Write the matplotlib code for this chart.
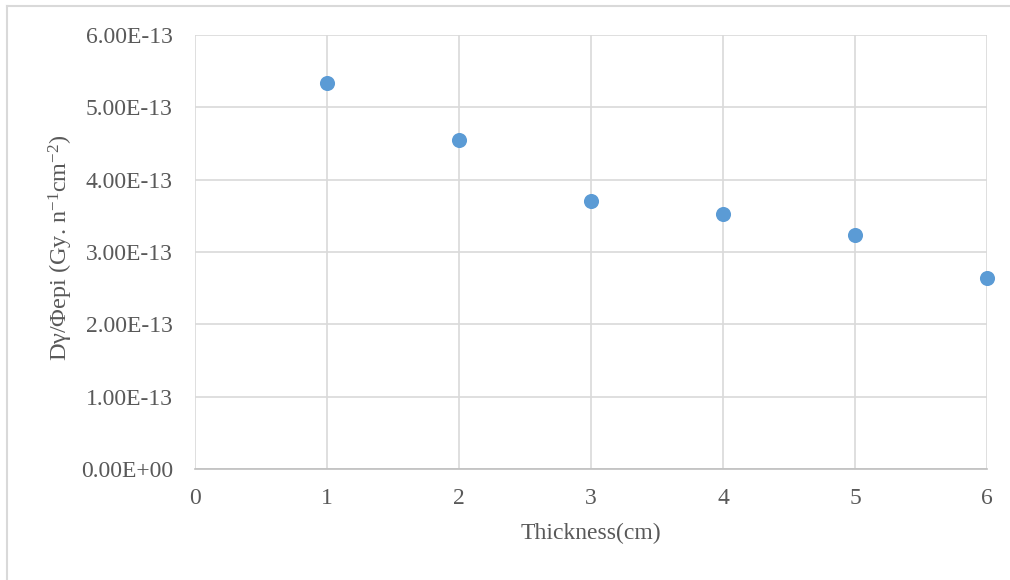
import matplotlib.pyplot as plt
from matplotlib.lines import Line2D
from matplotlib.ticker import FuncFormatter

plt.rcParams["font.family"] = ["Liberation Serif", "DejaVu Serif"]
plt.rcParams["mathtext.fontset"] = "custom"
plt.rcParams["mathtext.rm"] = "Liberation Serif"
plt.rcParams["mathtext.it"] = "Liberation Serif"

thickness = [1, 2, 3, 4, 5, 6]
dose = [5.34e-13, 4.55e-13, 3.71e-13, 3.52e-13, 3.23e-13, 2.645e-13]
y_ticks = [0, 1e-13, 2e-13, 3e-13, 4e-13, 5e-13, 6e-13]

text_col = "#595959"
grid_col = "#D9D9D9"

fig = plt.figure(figsize=(10.1, 5.8), dpi=100)
ax = fig.add_axes([195 / 1010, 111 / 580, 792 / 1010, 434 / 580])

# outer chart border (only top and left edges show in the reference)
fig.add_artist(Line2D([7 / 1010, 1.0], [1 - 6 / 580, 1 - 6 / 580], color=grid_col, lw=1.5))
fig.add_artist(Line2D([7 / 1010, 7 / 1010], [0.0, 1 - 6 / 580], color=grid_col, lw=1.5))

ax.scatter(thickness, dose, s=118, color="#5B9BD5", zorder=3, clip_on=False, linewidths=0)

ax.set_xlim(0, 6)
ax.set_ylim(0, 6e-13)
ax.set_xticks(range(7))
ax.set_yticks(y_ticks)
ax.yaxis.set_major_formatter(FuncFormatter(lambda v, p: "%.2E" % v))
ax.grid(True, color=grid_col, lw=1.2)
ax.set_axisbelow(True)

for side in ["top", "right", "left"]:
    ax.spines[side].set_visible(False)
ax.spines["bottom"].set_color("#BFBFBF")
ax.spines["bottom"].set_linewidth(1.2)

ax.tick_params(length=0, labelsize=17, colors=text_col)
ax.tick_params(axis="y", pad=16)
ax.tick_params(axis="x", pad=14)

ax.set_xlabel("Thickness(cm)", fontsize=17, color=text_col, labelpad=10)
ax.set_ylabel("Dγ/Φepi (Gy. n$^{\\mathregular{-1}}$cm$^{\\mathregular{-2}}$)",
              fontsize=17.5, color=text_col, labelpad=4)
ax.yaxis.label.set_y(0.511)

fig.savefig("out.png", dpi=100)
